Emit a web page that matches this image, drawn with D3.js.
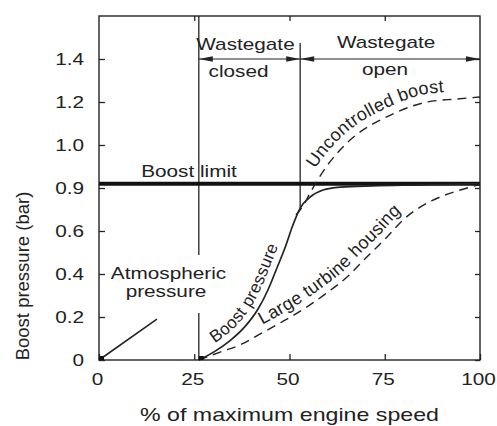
<!DOCTYPE html>
<html>
<head>
<meta charset="utf-8">
<script src="https://cdn.jsdelivr.net/npm/d3@7"></script>
<style>
  html, body { margin: 0; padding: 0; background: #fff; }
  svg { display: block; }
  text { font-family: "Liberation Sans", Arial, Helvetica, sans-serif; fill: #222; }
</style>
</head>
<body>
<svg id="chart" width="497" height="426"></svg>
<script>
// ---- Axis ticks ----
const xTicks = [0, 25, 50, 75, 100];
const yTicks = [0, 0.2, 0.4, 0.6, 0.9, 1.0, 1.2, 1.4];
const yTickLabels = ["0", "0.2", "0.4", "0.6", "0.9", "1.0", "1.2", "1.4"];
const yTop = 1.6;

// ---- Wastegate regions (% of max engine speed) ----
const gateStart = 26.2;   // wastegate closed from here
const gateOpen = 52.8;    // wastegate opens here
const gateEnd = 100;
const boostLimit = 0.91;

// ---- Curves ----
const atmosX = [0, 15.2];
const atmosY = [0, 0.19];

const boostX = [26.2, 30.4, 34.4, 38.3, 41.7, 44.4, 46.7, 48.8, 50.9, 52.8, 55.4, 58.8, 63.3, 71.9, 84.3, 100];
const boostY = [0, 0.04, 0.09, 0.155, 0.236, 0.328, 0.428, 0.521, 0.642, 0.76, 0.837, 0.886, 0.902, 0.905, 0.907, 0.91];

const uncontrolledX = [51.7, 53.5, 55.4, 57.2, 59.8, 62.5, 65.9, 69.3, 73.8, 78.2, 82.2, 86.1, 94, 100];
const uncontrolledY = [0.712, 0.774, 0.865, 0.916, 0.951, 0.981, 1.023, 1.07, 1.116, 1.153, 1.181, 1.2, 1.214, 1.223];

const largeX = [26.2, 31.8, 37, 42.3, 47.5, 54.6, 59.8, 65.1, 70.3, 75.6, 79.8, 84.3, 89.5, 94.8, 100];
const largeY = [0, 0.037, 0.07, 0.121, 0.172, 0.247, 0.312, 0.386, 0.479, 0.572, 0.677, 0.767, 0.837, 0.886, 0.908];

// ---- Layout ----
const W = 497, H = 426;
const M = { left: 99, top: 16, right: 17, bottom: 66 };
const iw = W - M.left - M.right;
const ih = H - M.top - M.bottom;
const ink = "#232323";
const FS = 17;          // base font size
const SX = 1.22;        // horizontal widening of the lettering

const x = d3.scaleLinear().domain([0, 100]).range([0, iw]);
// Tick marks are equally spaced even though their values are not
const yDomain = yTicks.concat([yTop]);
const y = d3.scaleLinear()
  .domain(yDomain)
  .range(yDomain.map((d, i) => ih - i * ih / (yDomain.length - 1)));

const svg = d3.select("#chart");
svg.append("rect").attr("width", W).attr("height", H).attr("fill", "#fff");
const defs = svg.append("defs");
const g = svg.append("g").attr("transform", `translate(${M.left},${M.top})`);

function widen(sel, k) {
  sel.each(function () {
    const L = this.getComputedTextLength();
    d3.select(this).attr("textLength", L * k).attr("lengthAdjust", "spacingAndGlyphs");
  });
  return sel;
}

// ---- Axes ----
function styleAxis(s) {
  s.select(".domain").remove();
  s.selectAll(".tick line").attr("stroke", ink).attr("stroke-width", 1.3);
  s.selectAll(".tick text").attr("font-size", FS).attr("fill", ink);
}

const gy = g.append("g")
  .call(d3.axisLeft(y).tickValues(yTicks).tickFormat((d, i) => yTickLabels[i])
    .tickSizeInner(-6).tickSizeOuter(0).tickPadding(15))
  .call(styleAxis);
gy.attr("font-family", null);
widen(gy.selectAll(".tick text"), SX);

const gx = g.append("g").attr("transform", `translate(0,${ih})`)
  .call(d3.axisBottom(x).tickValues(xTicks).tickFormat(d3.format("d"))
    .tickSizeInner(-6).tickSizeOuter(0).tickPadding(13))
  .call(styleAxis);
gx.attr("font-family", null);
gx.selectAll(".tick text").attr("dx", -2);
widen(gx.selectAll(".tick text"), SX);

g.append("g")
  .call(d3.axisTop(x).tickValues([25, 50, 75]).tickFormat("").tickSizeInner(-5).tickSizeOuter(0))
  .call(styleAxis);

g.append("g").attr("transform", `translate(${iw},0)`)
  .call(d3.axisRight(y).tickValues(yTicks).tickFormat("").tickSizeInner(-5).tickSizeOuter(0))
  .call(styleAxis);

// Frame
g.append("rect").attr("width", iw).attr("height", ih)
  .attr("fill", "none").attr("stroke", ink).attr("stroke-width", 1.4);

// Axis titles
const xTitle = svg.append("text")
  .attr("x", M.left + iw / 2).attr("y", 421)
  .attr("text-anchor", "middle").attr("font-size", 19)
  .text("% of maximum engine speed");
widen(xTitle, 1.22);

svg.append("text")
  .attr("transform", "translate(29,276) rotate(-90)")
  .attr("text-anchor", "middle").attr("font-size", 18.5)
  .text("Boost pressure (bar)");

// ---- Atmospheric pressure label and the broken line at wastegate start ----
const atmosLabel = g.append("g");
const a1 = atmosLabel.append("text")
  .attr("x", 168.5 - M.left).attr("y", 279 - M.top)
  .attr("text-anchor", "middle").attr("font-size", FS).text("Atmospheric");
widen(a1, SX);
const a2 = atmosLabel.append("text")
  .attr("x", 166 - M.left).attr("y", 297 - M.top)
  .attr("text-anchor", "middle").attr("font-size", FS).text("pressure");
widen(a2, SX);
const bb = atmosLabel.node().getBBox();

const vline = (xv, y0, y1) => g.append("line")
  .attr("x1", x(xv)).attr("x2", x(xv)).attr("y1", y0).attr("y2", y1)
  .attr("stroke", ink).attr("stroke-width", 1.3);
vline(gateStart, 0, bb.y - 9);
vline(gateStart, bb.y + bb.height + 12, ih);

// Wastegate opening line: from above the arrow row down to the boost curve
const openIdx = boostX.indexOf(gateOpen);
vline(gateOpen, y(1.4) - 16, y(boostY[openIdx]));

// ---- Arrow row ----
const arrowY = y(1.4);
function arrow(x0, x1) {
  g.append("line").attr("x1", x(x0)).attr("x2", x(x1))
    .attr("y1", arrowY).attr("y2", arrowY)
    .attr("stroke", ink).attr("stroke-width", 1.2);
  [[x(x0), -1], [x(x1), 1]].forEach(([tx, dir]) => {
    g.append("path")
      .attr("d", `M${tx},${arrowY} L${tx - dir * 14},${arrowY - 2.8} L${tx - dir * 14},${arrowY + 2.8} Z`)
      .attr("fill", ink);
  });
}
arrow(gateStart, gateOpen);
arrow(gateOpen, gateEnd);

function label(txt, cx, by) {
  const t = g.append("text").attr("x", cx).attr("y", by)
    .attr("text-anchor", "middle").attr("font-size", FS).text(txt);
  widen(t, SX);
  return t;
}
const midClosed = (x(gateStart) + x(gateOpen)) / 2;
const midOpen = (x(gateOpen) + x(gateEnd)) / 2;
label("Wastegate", midClosed - 4, arrowY - 9);
label("closed", midClosed - 11, arrowY + 18);
label("Wastegate", midOpen - 4, arrowY - 11);
label("open", midOpen - 5, arrowY + 16);

// ---- Boost limit ----
g.append("line").attr("x1", 0).attr("x2", iw)
  .attr("y1", y(boostLimit)).attr("y2", y(boostLimit))
  .attr("stroke", "#111").attr("stroke-width", 4);
label("Boost limit", 189 - M.left, y(boostLimit) - 7);

// ---- Curves ----
const line = d3.line().x(d => x(d[0])).y(d => y(d[1])).curve(d3.curveMonotoneX);
const zipPts = (xs, ys) => xs.map((v, i) => [v, ys[i]]);

g.append("path").datum(zipPts(atmosX, atmosY))
  .attr("d", d3.line().x(d => x(d[0])).y(d => y(d[1])))
  .attr("fill", "none").attr("stroke", ink).attr("stroke-width", 1.6);

g.append("path").datum(zipPts(largeX, largeY)).attr("d", line)
  .attr("fill", "none").attr("stroke", ink).attr("stroke-width", 1.4)
  .attr("stroke-dasharray", "9,6");

g.append("path").datum(zipPts(uncontrolledX, uncontrolledY)).attr("d", line)
  .attr("fill", "none").attr("stroke", ink).attr("stroke-width", 1.4)
  .attr("stroke-dasharray", "9,6");

g.append("path").datum(zipPts(boostX, boostY)).attr("d", line)
  .attr("fill", "none").attr("stroke", ink).attr("stroke-width", 1.7);

// Small heavy dots where the curves start
[[atmosX[0], atmosY[0]], [boostX[0], boostY[0]]].forEach(([px, py]) => {
  g.append("rect").attr("x", x(px)).attr("y", y(py) - 4).attr("width", 5).attr("height", 4).attr("fill", "#111");
});

// ---- Curve labels set along offset copies of the curves (plot coordinates) ----
function offsetPts(xs, ys, d) {
  const p = xs.map((v, i) => [x(v), y(ys[i])]);
  const out = p.map((pt, i) => {
    const a = p[Math.max(i - 1, 0)], b = p[Math.min(i + 1, p.length - 1)];
    let tx = b[0] - a[0], ty = b[1] - a[1];
    const n = Math.hypot(tx, ty); tx /= n; ty /= n;
    return [pt[0] + d * ty, pt[1] - d * tx];
  });
  // extend both ends along their tangents
  const ext = (q0, q1) => {
    const dx = q0[0] - q1[0], dy = q0[1] - q1[1], n = Math.hypot(dx, dy);
    return [q0[0] + 60 * dx / n, q0[1] + 60 * dy / n];
  };
  out.unshift(ext(out[0], out[1]));
  out.push(ext(out[out.length - 1], out[out.length - 2]));
  return out;
}
function lengthAtX(node, tx) {
  let lo = 0, hi = node.getTotalLength();
  for (let k = 0; k < 40; k++) {
    const m = (lo + hi) / 2;
    if (node.getPointAtLength(m).x < tx) lo = m; else hi = m;
  }
  return lo;
}
function curveLabel(id, xs, ys, off, txt, targetX, fs, ls) {
  const pts = offsetPts(xs, ys, off);
  const p = defs.append("path").attr("id", id)
    .attr("d", d3.line().curve(d3.curveCatmullRom)(pts));
  const L = lengthAtX(p.node(), targetX - M.left);
  g.append("text").attr("font-size", fs).attr("letter-spacing", ls)
    .append("textPath").attr("href", "#" + id)
    .attr("startOffset", L).attr("text-anchor", "middle").text(txt);
}
curveLabel("lbl-boost", boostX, boostY, 7, "Boost pressure", 255, 17, 0.3);
curveLabel("lbl-large", largeX, largeY, 7, "Large turbine housing", 338, 18, 0.3);
curveLabel("lbl-unc", uncontrolledX, uncontrolledY, 8, "Uncontrolled boost", 371, 18, 0.3);
</script>
</body>
</html>
